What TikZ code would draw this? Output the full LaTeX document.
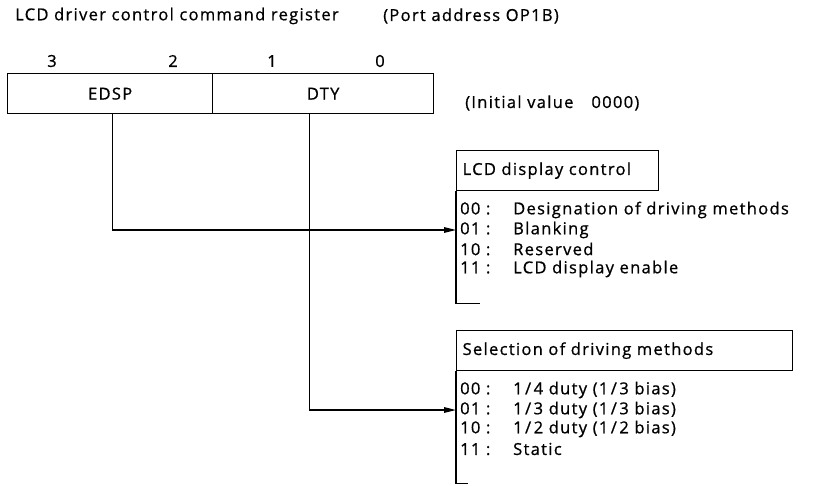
\documentclass[tikz,border=0pt]{standalone}
\usepackage{fontspec}
\setmainfont[LetterSpace=8,FakeBold=0.8]{Open Sans}
\usetikzlibrary{arrows.meta,calc}
\newcommand{\myslash}{\hspace{2.5pt}/\hspace{2.5pt}}
\begin{document}
\begin{tikzpicture}[x=1pt,y=-1pt,
  every node/.style={font=\fontsize{16.5}{19}\selectfont},
  ln/.style={line width=1.3pt},
  txt/.style={anchor=west,inner sep=0pt},
  cell/.style={draw,line width=1.3pt,minimum height=40pt,inner sep=0pt,anchor=north west},
  hdr/.style={draw,line width=1.3pt,minimum height=40pt,inner xsep=6pt,inner ysep=0pt,anchor=north west,align=left},
  row/.style={anchor=west,inner xsep=4pt,inner ysep=0pt,minimum height=18pt},
  arr/.style={ln,-{Triangle[length=12pt,width=5.5pt]}}]
\useasboundingbox (0,0) rectangle (814,485);
\node[txt] (title) at (15,16) {LCD driver control command register};
\node[txt] (port) at (383,16) {(Port address OP1B)};
% bit numbers
\node (b3) at (52,61) {3};
\node (b2) at (173,61) {2};
\node (b1) at (272,61) {1};
\node (b0) at (380,61) {0};
% register
\node[cell,minimum width=205pt] (edsp) at (7,73) {EDSP};
\node[cell,minimum width=221pt] (dty) at (212,73) {DTY};
\node[txt] (init) at (465,103) {(Initial value\hspace{18pt}0000)};
% LCD display control
\node[hdr,text width=190pt] (h1) at (456,150) {LCD display control};
\node[row] (r10) at (456,210) {\makebox[53pt][l]{00 :}Designation of driving methods};
\node[row] (r11) at (456,230) {\makebox[53pt][l]{01 :}Blanking};
\node[row] (r12) at (456,249) {\makebox[53pt][l]{10 :}Reserved};
\node[row] (r13) at (456,269) {\makebox[53pt][l]{11 :}LCD display enable};
\draw[ln] (h1.south west) -- ++(0,112) -- ++(24,0);
% Selection of driving methods
\node[hdr,text width=324pt] (h2) at (456,330) {Selection of driving methods};
\node[row] (r20) at (456,390) {\makebox[53pt][l]{00 :}1\myslash4 duty (1\myslash3 bias)};
\node[row] (r21) at (456,410) {\makebox[53pt][l]{01 :}1\myslash3 duty (1\myslash3 bias)};
\node[row] (r22) at (456,429) {\makebox[53pt][l]{10 :}1\myslash2 duty (1\myslash2 bias)};
\node[row] (r23) at (456,449) {\makebox[53pt][l]{11 :}Static};
\draw[ln] (h2.south west) -- ++(0,112) -- ++(12,0);
% connectors
\coordinate (e0) at ($(edsp.south)+(2,0)$);
\coordinate (d0) at ($(dty.south)+(-13.5,0)$);
\draw[arr] (e0) |- (r11.west);
\draw[arr] (d0) |- (r21.west);
\end{tikzpicture}
\end{document}
